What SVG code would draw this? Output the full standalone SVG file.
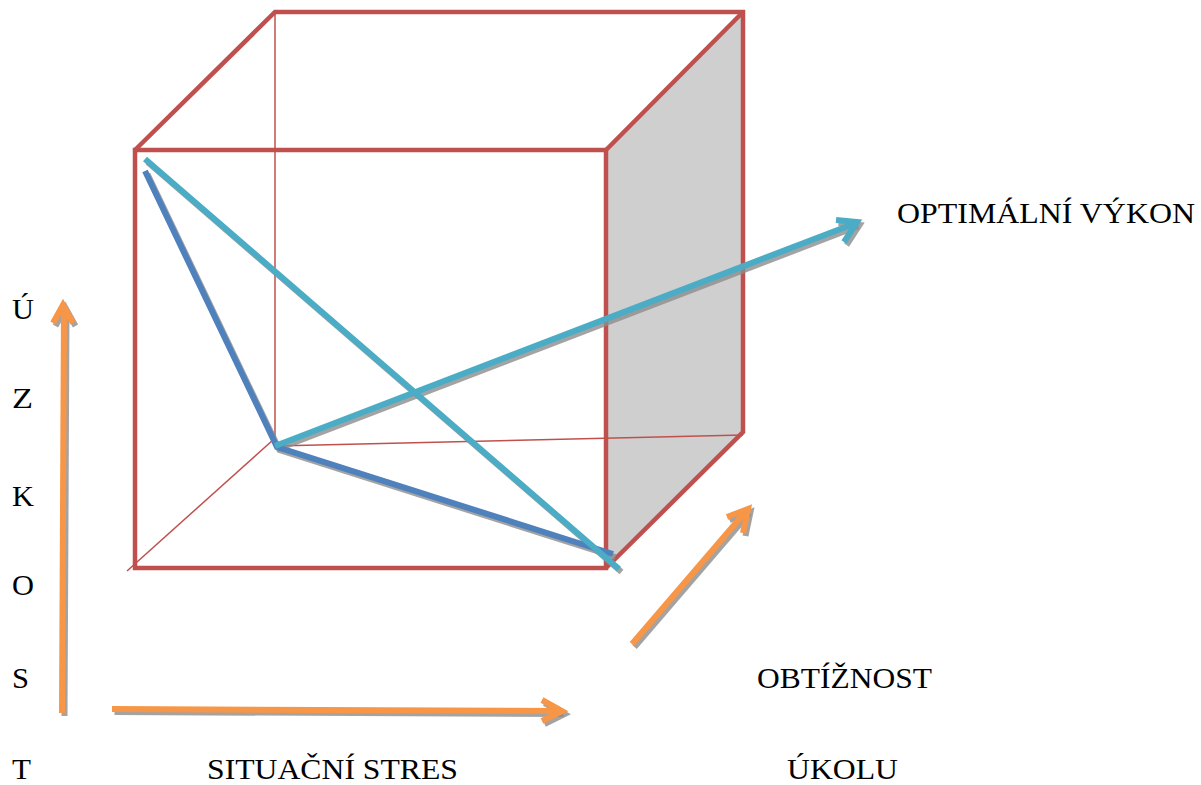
<svg xmlns="http://www.w3.org/2000/svg" width="1201" height="785" viewBox="0 0 1201 785">
<style>
.thick{fill:none;stroke:#C0504D;stroke-width:4.5;stroke-linejoin:miter}
.thin{fill:none;stroke:#C0504D;stroke-width:1.5}
.sh{fill:none;stroke:#8C8C8C;stroke-opacity:0.8;stroke-width:6;stroke-linecap:butt;stroke-linejoin:miter}
.dblue{fill:none;stroke:#4F81BD;stroke-width:6;stroke-linejoin:miter}
.cyan{fill:none;stroke:#4BACC6;stroke-width:6;stroke-linejoin:miter}
.orange{fill:none;stroke:#F79646;stroke-width:6;stroke-linejoin:miter}
text{font-family:"Liberation Serif","Times New Roman",serif;font-size:29px;fill:#000}
</style>
<rect width="1201" height="785" fill="#fff"/>
<g id="cube">
<polygon points="606,150 743,12 743,432 606,568" fill="#CFCFCF"/>
<line class="thin" x1="275" y1="12" x2="275" y2="446"/>
<line class="thin" x1="275" y1="446" x2="743" y2="435"/>
<line class="thin" x1="127" y1="571" x2="273" y2="440"/>
<rect class="thick" x="135" y="150" width="471" height="418"/>
<polyline class="thick" points="135,150 275,12 743,12 743,432 606,568"/>
<line class="thick" x1="743" y1="12" x2="606" y2="150"/>
</g>
<g id="connectors">
<g transform="translate(2.5,3)">
<polyline class="sh" points="145,171 277,447 613,554"/>
<line class="sh" x1="145" y1="159" x2="619" y2="569"/>
<line class="sh" x1="275" y1="446" x2="856" y2="223"/>
<polyline class="sh" points="836,220 857,222 844,242"/>
<line class="sh" x1="62" y1="713" x2="64" y2="307"/>
<polyline class="sh" points="53,323 63,305 73,323"/>
<line class="sh" x1="112" y1="709" x2="561" y2="711"/>
<polyline class="sh" points="542,700 562,711 542,721"/>
<line class="sh" x1="632" y1="644" x2="747" y2="510"/>
<polyline class="sh" points="727,517 748,509 743,533"/>
</g>
<polyline class="dblue" points="145,171 277,447 613,554"/>
<line class="cyan" x1="145" y1="159" x2="619" y2="569"/>
<line class="cyan" x1="275" y1="446" x2="856" y2="223"/>
<polyline class="cyan" points="836,220 857,222 844,242"/>
<line class="orange" x1="62" y1="713" x2="64" y2="307"/>
<polyline class="orange" points="53,323 63,305 73,323"/>
<line class="orange" x1="112" y1="709" x2="561" y2="711"/>
<polyline class="orange" points="542,700 562,711 542,721"/>
<line class="orange" x1="632" y1="644" x2="747" y2="510"/>
<polyline class="orange" points="727,517 748,509 743,533"/>
</g>
<g id="labels">
<text x="897" y="223" textLength="298" lengthAdjust="spacingAndGlyphs">OPTIMÁLNÍ VÝKON</text>
<text x="12" y="319" textLength="22" lengthAdjust="spacingAndGlyphs">Ú</text>
<text x="12" y="408" textLength="21" lengthAdjust="spacingAndGlyphs">Z</text>
<text x="12" y="506" textLength="22" lengthAdjust="spacingAndGlyphs">K</text>
<text x="12" y="595" textLength="22" lengthAdjust="spacingAndGlyphs">O</text>
<text x="12" y="688" textLength="17" lengthAdjust="spacingAndGlyphs">S</text>
<text x="12" y="779" textLength="19" lengthAdjust="spacingAndGlyphs">T</text>
<text x="207" y="779" textLength="251" lengthAdjust="spacingAndGlyphs">SITUAČNÍ STRES</text>
<text x="757" y="688" textLength="175" lengthAdjust="spacingAndGlyphs">OBTÍŽNOST</text>
<text x="787" y="779" textLength="111" lengthAdjust="spacingAndGlyphs">ÚKOLU</text>
</g>
</svg>
